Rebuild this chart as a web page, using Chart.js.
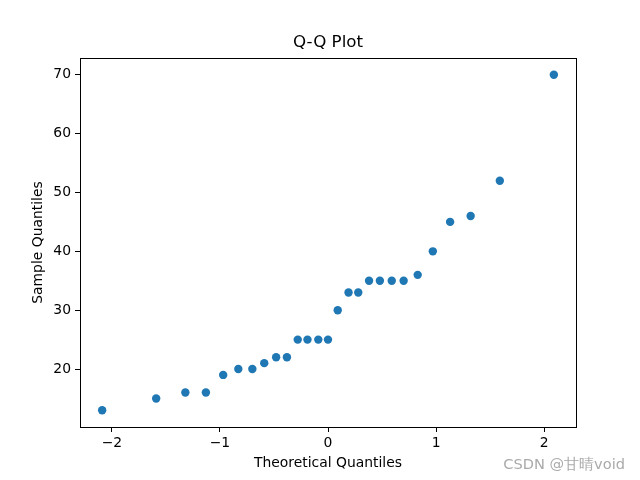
<!DOCTYPE html>
<html>
<head>
<meta charset="utf-8">
<script src="https://cdn.jsdelivr.net/npm/chart.js@4/dist/chart.umd.min.js"></script>
<style>
  html, body { margin: 0; padding: 0; background: #fff; }
  #wrap { width: 640px; height: 480px; position: relative; }
</style>
</head>
<body>
<div id="wrap"><canvas id="qq" width="640" height="480"></canvas></div>
<script>
// values
var theoretical = [-2.09, -1.59, -1.32, -1.13, -0.97, -0.83, -0.70, -0.59, -0.48, -0.38,
                   -0.28, -0.19, -0.09, 0.00, 0.09, 0.19, 0.28, 0.38, 0.48, 0.59,
                   0.70, 0.83, 0.97, 1.13, 1.32, 1.59, 2.09];
var sample = [13, 15, 16, 16, 19, 20, 20, 21, 22, 22,
              25, 25, 25, 25, 30, 33, 33, 35, 35, 35,
              35, 36, 40, 45, 46, 52, 70];
var xTicks = [-2, -1, 0, 1, 2];
var yTicks = [20, 30, 40, 50, 60, 70];

var FONT = '"DejaVu Sans", sans-serif';

function fmt(v) {
    return v < 0 ? '\u2212' + Math.abs(v) : String(v);
}

var points = theoretical.map(function(x, i) {
    return { x: x, y: sample[i] };
});

// full black frame + title centred over the axes, like matplotlib
var framePlugin = {
    id: 'frame',
    afterDraw: function(chart) {
        var a = chart.chartArea;
        var ctx = chart.ctx;
        ctx.save();
        ctx.strokeStyle = '#000';
        ctx.lineWidth = 1;
        ctx.strokeRect(Math.round(a.left) + 0.5, Math.round(a.top) + 0.5,
                       Math.round(a.right - a.left), Math.round(a.bottom - a.top));
        ctx.fillStyle = '#000';
        ctx.font = '16.7px ' + FONT;
        ctx.textAlign = 'center';
        ctx.textBaseline = 'middle';
        ctx.fillText('Q-Q Plot', (a.left + a.right) / 2, 43);
        ctx.restore();
    }
};

var watermarkPlugin = {
    id: 'watermark',
    afterDraw: function(chart) {
        var ctx = chart.ctx;
        ctx.save();
        ctx.font = '14.6px ' + FONT;
        ctx.fillStyle = '#aaaaaa';
        ctx.textAlign = 'right';
        ctx.textBaseline = 'alphabetic';
        ctx.fillText('CSDN @甘晴void', 625, 469);
        ctx.restore();
    }
};

new Chart(document.getElementById('qq').getContext('2d'), {
    type: 'scatter',
    data: {
        datasets: [{
            data: points,
            backgroundColor: '#1f77b4',
            borderColor: '#1f77b4',
            pointRadius: 4.2,
            pointHoverRadius: 4.2,
            borderWidth: 0
        }]
    },
    options: {
        responsive: false,
        animation: false,
        layout: { padding: { left: 0, right: 64, top: 58, bottom: 0 } },
        plugins: {
            legend: { display: false },
            tooltip: { enabled: false },
            title: { display: false }
        },
        scales: {
            x: {
                type: 'linear',
                min: -2.295,
                max: 2.295,
                afterBuildTicks: function(scale) {
                    scale.ticks = xTicks.map(function(v) { return { value: v }; });
                },
                afterFit: function(scale) { scale.height = 53; },
                grid: { display: true, drawOnChartArea: false, drawTicks: true, tickLength: 5, tickColor: '#000' },
                border: { display: false },
                ticks: {
                    color: '#000',
                    padding: 3,
                    maxRotation: 0,
                    font: { family: FONT, size: 13.9 },
                    callback: function(v) { return fmt(v); }
                },
                title: {
                    display: true,
                    text: 'Theoretical Quantiles',
                    color: '#000',
                    font: { family: FONT, size: 13.9 },
                    padding: { top: 0, bottom: 8 }
                }
            },
            y: {
                type: 'linear',
                min: 10.15,
                max: 72.85,
                afterBuildTicks: function(scale) {
                    scale.ticks = yTicks.map(function(v) { return { value: v }; });
                },
                afterFit: function(scale) { scale.width = 80; },
                grid: { display: true, drawOnChartArea: false, drawTicks: true, tickLength: 5, tickColor: '#000' },
                border: { display: false },
                ticks: {
                    color: '#000',
                    padding: 4,
                    font: { family: FONT, size: 13.9 },
                    callback: function(v) { return fmt(v); }
                },
                title: {
                    display: true,
                    text: 'Sample Quantiles',
                    color: '#000',
                    font: { family: FONT, size: 13.9 },
                    padding: { top: 30, bottom: 0 }
                }
            }
        }
    },
    plugins: [framePlugin, watermarkPlugin]
});
</script>
</body>
</html>
